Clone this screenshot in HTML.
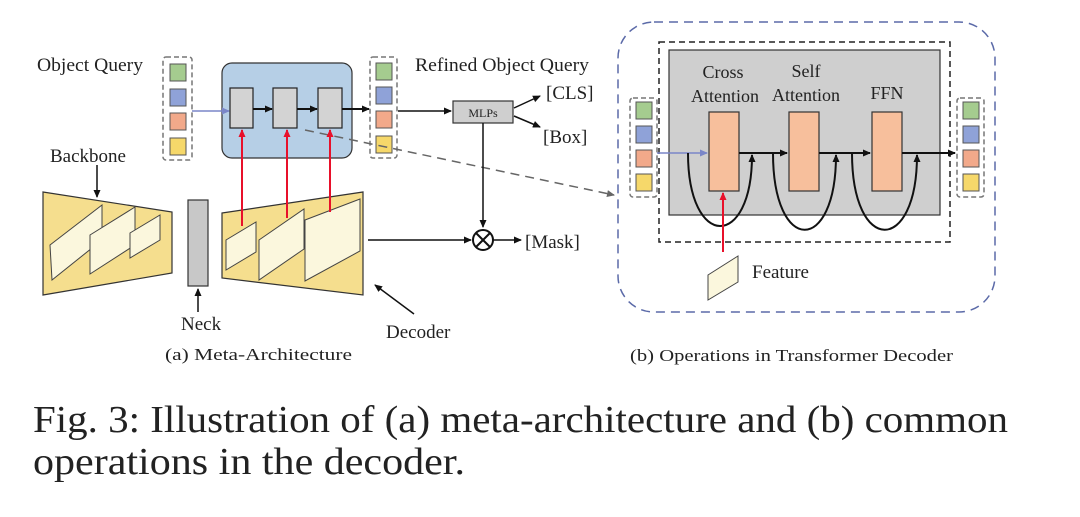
<!DOCTYPE html>
<html><head><meta charset="utf-8"><style>
html,body{margin:0;padding:0;background:#fff}
svg{display:block}
text{font-family:"Liberation Serif",serif;fill:#222}
</style></head><body>
<svg width="1080" height="517" viewBox="0 0 1080 517" xmlns="http://www.w3.org/2000/svg">
<defs>
<marker id="a" markerWidth="8" markerHeight="8" refX="7" refY="4" orient="auto" markerUnits="userSpaceOnUse"><path d="M0,0.5 L8,4 L0,7.5z" fill="#111"/></marker>
<marker id="r" markerWidth="8" markerHeight="8" refX="7" refY="4" orient="auto" markerUnits="userSpaceOnUse"><path d="M0,0.5 L8,4 L0,7.5z" fill="#e8102a"/></marker>
<marker id="b" markerWidth="8" markerHeight="8" refX="7" refY="4" orient="auto" markerUnits="userSpaceOnUse"><path d="M0,0.5 L8,4 L0,7.5z" fill="#7a86c8"/></marker>
<marker id="g" markerWidth="8" markerHeight="8" refX="7" refY="4" orient="auto" markerUnits="userSpaceOnUse"><path d="M0,0.5 L8,4 L0,7.5z" fill="#666"/></marker>
</defs>

<!-- (a) -->
<text x="37" y="71" font-size="19" textLength="106" lengthAdjust="spacingAndGlyphs">Object Query</text>
<rect x="163" y="57" width="29" height="103" rx="3" fill="none" stroke="#777" stroke-width="1.5" stroke-dasharray="5,3"/>
<rect x="170" y="64" width="16" height="17" fill="#a5cc8f" stroke="#555"/>
<rect x="170" y="89" width="16" height="17" fill="#8fa2d8" stroke="#555"/>
<rect x="170" y="113" width="16" height="17" fill="#f2a98a" stroke="#555"/>
<rect x="170" y="138" width="16" height="17" fill="#f6d86a" stroke="#555"/>

<rect x="222" y="63" width="130" height="95" rx="10" fill="#b6cfe6" stroke="#333" stroke-width="1.2"/>
<line x1="192" y1="111" x2="229" y2="111" stroke="#7a86c8" stroke-width="1.5" marker-end="url(#b)"/>
<rect x="230" y="88" width="23" height="40" fill="#d3d3d3" stroke="#222" stroke-width="1.2"/>
<rect x="273" y="88" width="24" height="40" fill="#d3d3d3" stroke="#222" stroke-width="1.2"/>
<rect x="318" y="88" width="24" height="40" fill="#d3d3d3" stroke="#222" stroke-width="1.2"/>
<line x1="253" y1="109" x2="272" y2="109" stroke="#111" stroke-width="2" marker-end="url(#a)"/>
<line x1="297" y1="109" x2="317" y2="109" stroke="#111" stroke-width="2" marker-end="url(#a)"/>
<line x1="342" y1="109" x2="369" y2="109" stroke="#111" stroke-width="2" marker-end="url(#a)"/>

<rect x="370" y="57" width="27" height="101" rx="3" fill="none" stroke="#777" stroke-width="1.5" stroke-dasharray="5,3"/>
<rect x="376" y="63" width="16" height="17" fill="#a5cc8f" stroke="#555"/>
<rect x="376" y="87" width="16" height="17" fill="#8fa2d8" stroke="#555"/>
<rect x="376" y="111" width="16" height="17" fill="#f2a98a" stroke="#555"/>
<rect x="376" y="136" width="16" height="17" fill="#f6d86a" stroke="#555"/>

<line x1="305" y1="130" x2="614" y2="195" stroke="#666" stroke-width="1.5" stroke-dasharray="9,6" marker-end="url(#g)"/>

<text x="415" y="71" font-size="19" textLength="174" lengthAdjust="spacingAndGlyphs">Refined Object Query</text>
<line x1="398" y1="111" x2="451" y2="111" stroke="#111" stroke-width="1.5" marker-end="url(#a)"/>
<rect x="453" y="101" width="60" height="22" fill="#cfcfcf" stroke="#333" stroke-width="1.2"/>
<text x="483" y="117" font-size="12" text-anchor="middle">MLPs</text>
<line x1="514" y1="108" x2="540" y2="96" stroke="#111" stroke-width="1.5" marker-end="url(#a)"/>
<line x1="514" y1="116" x2="540" y2="127" stroke="#111" stroke-width="1.5" marker-end="url(#a)"/>
<text x="546" y="99" font-size="19">[CLS]</text>
<text x="543" y="143" font-size="19">[Box]</text>
<line x1="483" y1="123" x2="483" y2="227" stroke="#111" stroke-width="1.5" marker-end="url(#a)"/>

<text x="50" y="162" font-size="19">Backbone</text>
<line x1="97" y1="165" x2="97" y2="197" stroke="#111" stroke-width="1.5" marker-end="url(#a)"/>
<polygon points="43,192 172,212 172,273 43,295" fill="#f5de8e" stroke="#333" stroke-width="1.2"/>
<polygon points="50,245 102,205 102,240 52,280" fill="#fbf7dd" stroke="#444"/>
<polygon points="90,235 135,207 135,245 90,274" fill="#fbf7dd" stroke="#444"/>
<polygon points="130,233 160,215 160,240 130,258" fill="#fbf7dd" stroke="#444"/>

<rect x="188" y="200" width="20" height="86" fill="#c8c8c8" stroke="#333" stroke-width="1.2"/>
<line x1="198" y1="312" x2="198" y2="289" stroke="#111" stroke-width="1.5" marker-end="url(#a)"/>
<text x="181" y="330" font-size="19">Neck</text>

<polygon points="222,213 363,192 363,295 222,278" fill="#f5de8e" stroke="#333" stroke-width="1.2"/>
<polygon points="226,240 256,222 256,252 226,270" fill="#fbf7dd" stroke="#444"/>
<polygon points="259,240 304,209 304,249 259,280" fill="#fbf7dd" stroke="#444"/>
<polygon points="305,220 360,199 360,251 305,281" fill="#fbf7dd" stroke="#444"/>
<line x1="242" y1="226" x2="242" y2="130" stroke="#e8102a" stroke-width="2" marker-end="url(#r)"/>
<line x1="287" y1="218" x2="287" y2="130" stroke="#e8102a" stroke-width="2" marker-end="url(#r)"/>
<line x1="330" y1="212" x2="330" y2="130" stroke="#e8102a" stroke-width="2" marker-end="url(#r)"/>

<line x1="368" y1="240" x2="471" y2="240" stroke="#111" stroke-width="1.5" marker-end="url(#a)"/>
<circle cx="483" cy="240" r="10" fill="#fff" stroke="#111" stroke-width="2"/>
<line x1="476" y1="233" x2="490" y2="247" stroke="#111" stroke-width="2"/>
<line x1="490" y1="233" x2="476" y2="247" stroke="#111" stroke-width="2"/>
<line x1="493" y1="240" x2="521" y2="240" stroke="#111" stroke-width="1.5" marker-end="url(#a)"/>
<text x="525" y="248" font-size="19">[Mask]</text>

<line x1="414" y1="314" x2="375" y2="285" stroke="#111" stroke-width="1.5" marker-end="url(#a)"/>
<text x="386" y="338" font-size="19">Decoder</text>
<text x="165" y="360" font-size="17" textLength="187" lengthAdjust="spacingAndGlyphs">(a)  Meta-Architecture</text>

<!-- (b) -->
<rect x="618" y="22" width="377" height="290" rx="36" fill="none" stroke="#5b6aa8" stroke-width="1.5" stroke-dasharray="9,6"/>
<rect x="659" y="42" width="291" height="200" fill="none" stroke="#222" stroke-width="1.5" stroke-dasharray="6,4"/>
<rect x="669" y="50" width="271" height="165" fill="#cfcfcf" stroke="#333" stroke-width="1.2"/>
<text x="723" y="78" font-size="18" text-anchor="middle">Cross</text>
<text x="725" y="102" font-size="18" text-anchor="middle">Attention</text>
<text x="806" y="77" font-size="18" text-anchor="middle">Self</text>
<text x="806" y="101" font-size="18" text-anchor="middle">Attention</text>
<text x="887" y="99" font-size="18" text-anchor="middle">FFN</text>

<rect x="709" y="112" width="30" height="79" fill="#f7bf9c" stroke="#333" stroke-width="1.2"/>
<rect x="789" y="112" width="30" height="79" fill="#f7bf9c" stroke="#333" stroke-width="1.2"/>
<rect x="872" y="112" width="30" height="79" fill="#f7bf9c" stroke="#333" stroke-width="1.2"/>

<line x1="657" y1="153" x2="707" y2="153" stroke="#7a86c8" stroke-width="1.5" marker-end="url(#b)"/>
<line x1="739" y1="153" x2="787" y2="153" stroke="#111" stroke-width="2" marker-end="url(#a)"/>
<line x1="819" y1="153" x2="870" y2="153" stroke="#111" stroke-width="2" marker-end="url(#a)"/>
<line x1="902" y1="153" x2="955" y2="153" stroke="#111" stroke-width="2" marker-end="url(#a)"/>

<path d="M688,153 C688,250 752,250 752,155" fill="none" stroke="#111" stroke-width="2" marker-end="url(#a)"/>
<path d="M773,153 C773,255 836,255 836,155" fill="none" stroke="#111" stroke-width="2" marker-end="url(#a)"/>
<path d="M852,153 C852,255 917,255 917,155" fill="none" stroke="#111" stroke-width="2" marker-end="url(#a)"/>

<line x1="723" y1="252" x2="723" y2="193" stroke="#e8102a" stroke-width="2" marker-end="url(#r)"/>
<polygon points="708,275 738,256 738,282 708,300" fill="#fbf7dd" stroke="#444"/>
<text x="752" y="278" font-size="19">Feature</text>

<rect x="630" y="98" width="27" height="99" rx="3" fill="none" stroke="#777" stroke-width="1.5" stroke-dasharray="5,3"/>
<rect x="636" y="102" width="16" height="17" fill="#a5cc8f" stroke="#555"/>
<rect x="636" y="126" width="16" height="17" fill="#8fa2d8" stroke="#555"/>
<rect x="636" y="150" width="16" height="17" fill="#f2a98a" stroke="#555"/>
<rect x="636" y="174" width="16" height="17" fill="#f6d86a" stroke="#555"/>
<rect x="957" y="98" width="27" height="99" rx="3" fill="none" stroke="#777" stroke-width="1.5" stroke-dasharray="5,3"/>
<rect x="963" y="102" width="16" height="17" fill="#a5cc8f" stroke="#555"/>
<rect x="963" y="126" width="16" height="17" fill="#8fa2d8" stroke="#555"/>
<rect x="963" y="150" width="16" height="17" fill="#f2a98a" stroke="#555"/>
<rect x="963" y="174" width="16" height="17" fill="#f6d86a" stroke="#555"/>

<text x="630" y="361" font-size="17" textLength="323" lengthAdjust="spacingAndGlyphs">(b)  Operations in Transformer Decoder</text>

<text x="33" y="432" font-size="38" textLength="975" lengthAdjust="spacingAndGlyphs">Fig. 3: Illustration of (a) meta-architecture and (b) common</text>
<text x="33" y="474" font-size="38" textLength="432" lengthAdjust="spacingAndGlyphs">operations in the decoder.</text>
</svg>
</body></html>
